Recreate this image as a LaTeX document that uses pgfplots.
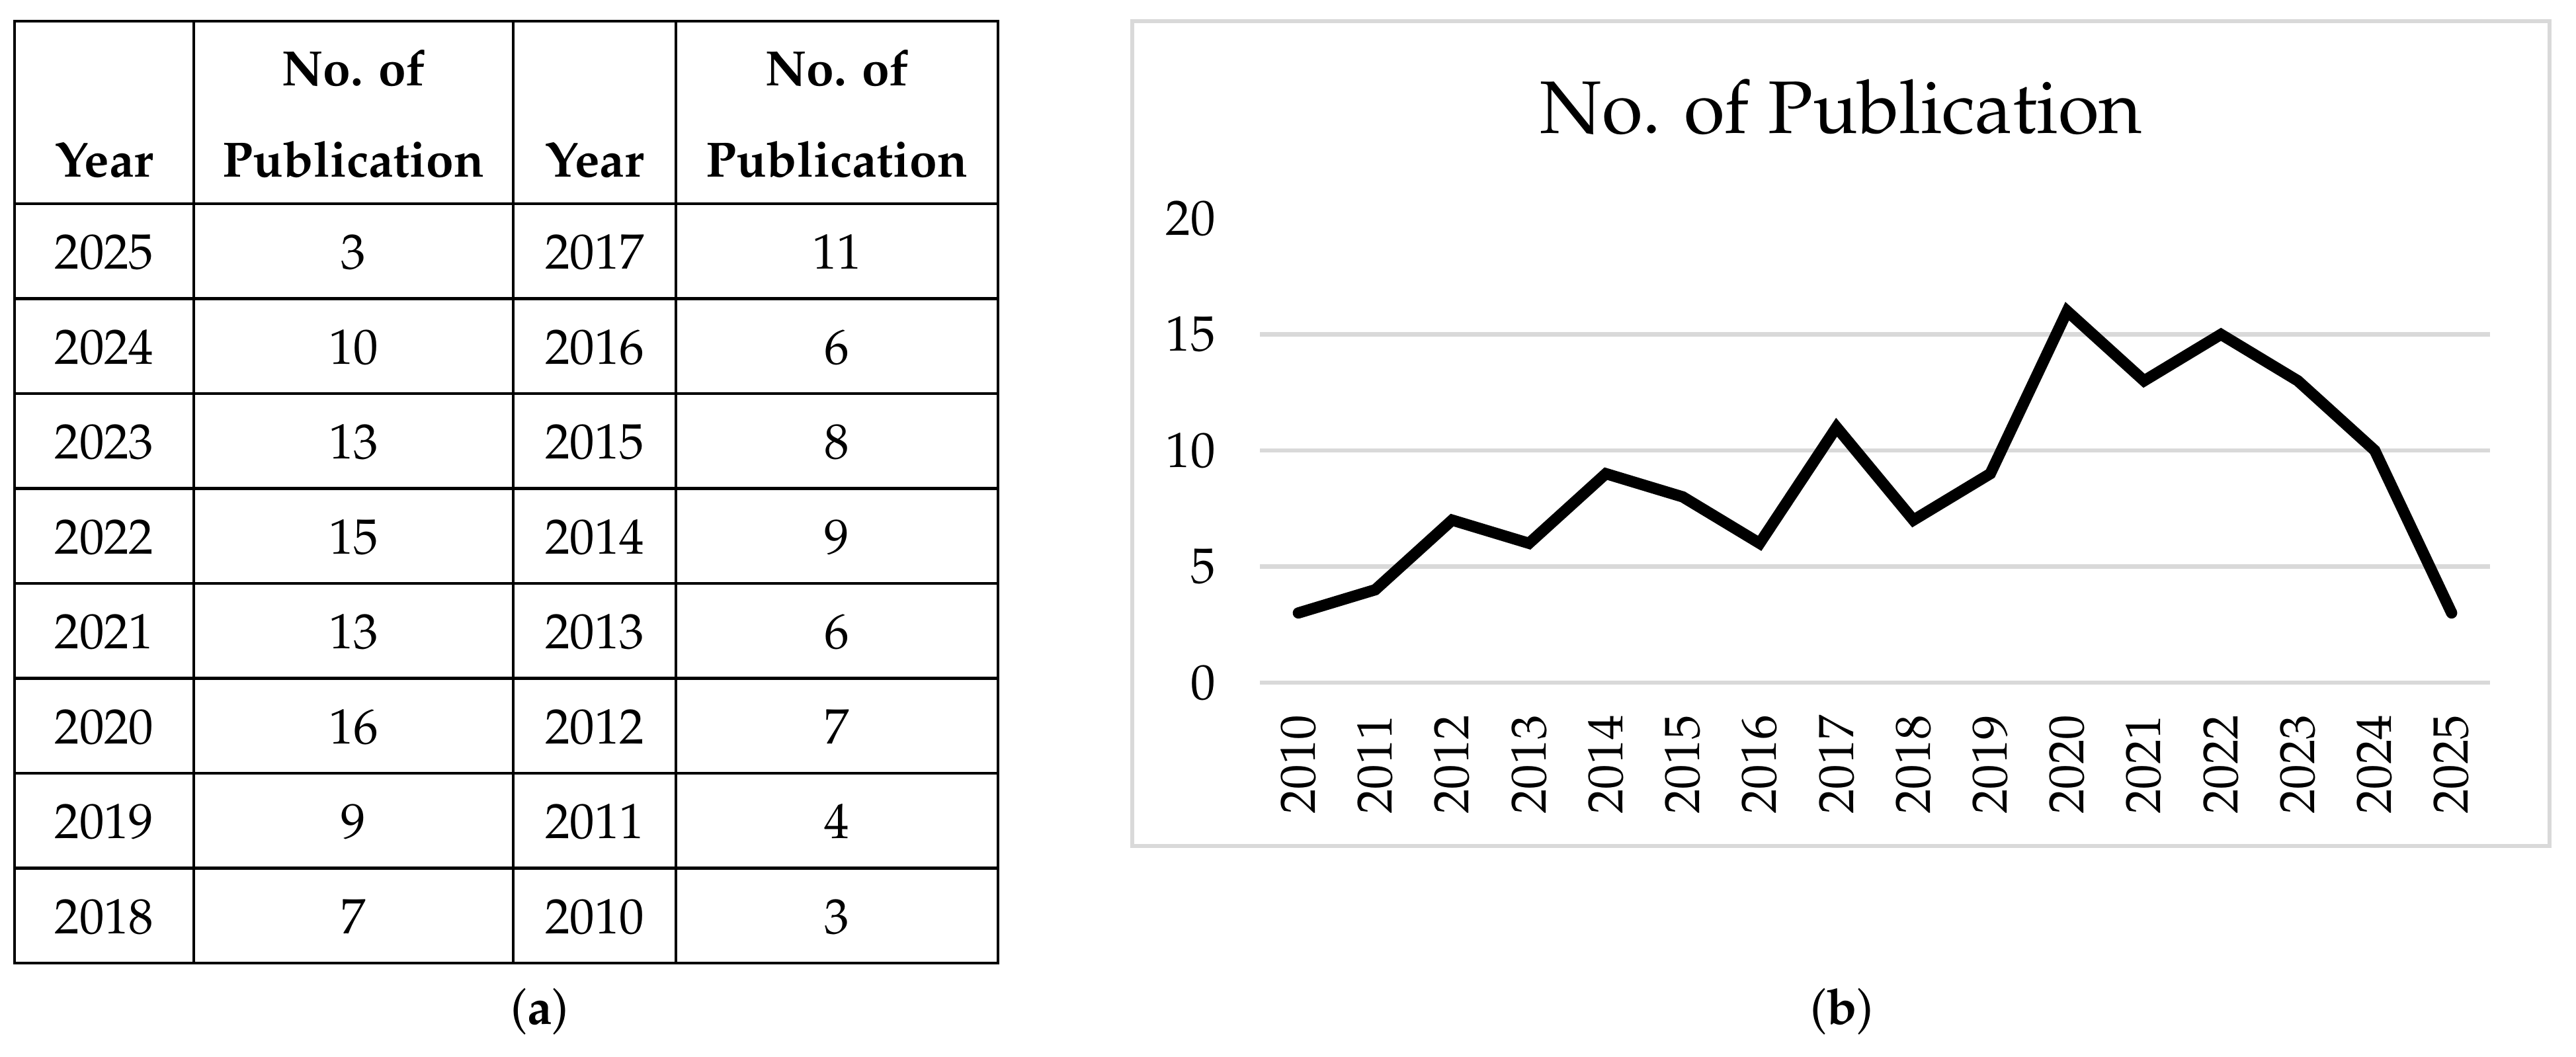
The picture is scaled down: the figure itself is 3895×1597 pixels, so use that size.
\documentclass[border=0pt]{standalone}
\usepackage[T1]{fontenc}
\usepackage{mathpazo}
\usepackage{pgfplots}
\pgfplotsset{compat=1.18}
\definecolor{gridgray}{HTML}{D9D9D9}
\begin{document}
\fontsize{11}{13}\selectfont
\begin{tikzpicture}
\begin{scope}[x=0.1467pt,y=-0.1467pt]
\path (0,0) rectangle (3895,1597);
% table lines
\foreach \y in {32,308,451.5,595,738.5,882,1025.5,1169,1312.5,1456}
  \draw[line width=0.65pt] (20,\y) -- (1511,\y);
\foreach \x in {22,293,776,1022,1509}
  \draw[line width=0.45pt] (\x,32) -- (\x,1456);
% header
\node[anchor=base,font=\bfseries] at (157.5,267) {Year};
\node[anchor=base,font=\bfseries] at (534.5,130) {No. of};
\node[anchor=base,font=\bfseries] at (534.5,267) {Publication};
\node[anchor=base,font=\bfseries] at (899,267) {Year};
\node[anchor=base,font=\bfseries] at (1265.5,130) {No. of};
\node[anchor=base,font=\bfseries] at (1265.5,267) {Publication};
% body
\foreach \a/\b/\c/\d [count=\i from 0] in {2025/3/2017/11,2024/10/2016/6,2023/13/2015/8,2022/15/2014/9,2021/13/2013/6,2020/16/2012/7,2019/9/2011/4,2018/7/2010/3}{
  \pgfmathsetmacro\yy{308+143.5*\i+71.75+27}
  \node[anchor=base] at (157.5,\yy) {\a};
  \node[anchor=base] at (534.5,\yy) {\b};
  \node[anchor=base] at (899,\yy) {\c};
  \node[anchor=base] at (1265.5,\yy) {\d};
}
% chart frame and title
\draw[gridgray,line width=1pt] (1712,32) rectangle (3855,1279);
\node[anchor=base,font=\fontsize{16.5}{19}\selectfont] at (2784,201) {No. of Publication};
% captions
\node[anchor=base] at (816,1548) {(\textbf{a})};
\node[anchor=base] at (2785,1548) {(\textbf{b})};
\end{scope}
\begin{axis}[
  at={(279.46pt,-151.39pt)}, anchor=south west,
  scale only axis, width=272.86pt, height=102.98pt,
  xmin=2009.5, xmax=2025.5, ymin=0, ymax=20,
  axis line style={draw=none}, major tick length=0pt,
  ytick={0,5,10,15}, extra y ticks={20}, extra y tick style={ymajorgrids=false},
  ymajorgrids, grid style={gridgray,line width=1pt},
  xtick={2010,...,2025},
  xticklabel style={rotate=90,anchor=east,xshift=-3.3pt},
  yticklabel style={anchor=east,xshift=-6pt},
  /pgf/number format/1000 sep={},
  /pgf/number format/assume math mode=true,
  clip=false,
]
\addplot[black,line width=2.5pt,line cap=round,line join=miter] coordinates {
(2010,3)(2011,4)(2012,7)(2013,6)(2014,9)(2015,8)(2016,6)(2017,11)
(2018,7)(2019,9)(2020,16)(2021,13)(2022,15)(2023,13)(2024,10)(2025,3)};
\end{axis}
\end{tikzpicture}
\end{document}
